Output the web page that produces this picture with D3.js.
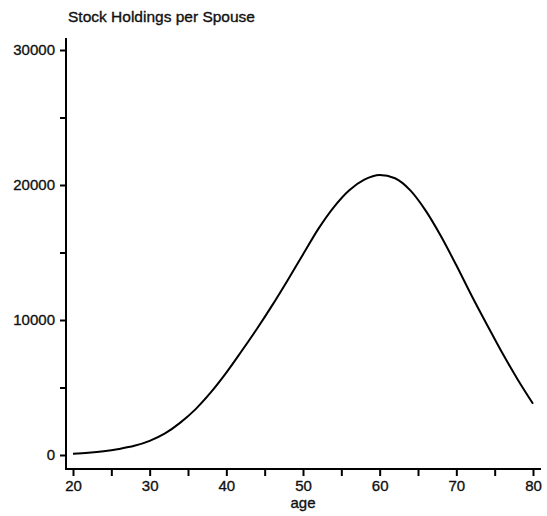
<!DOCTYPE html>
<html>
<head>
<meta charset="utf-8">
<script src="https://cdn.jsdelivr.net/npm/d3@7"></script>
<style>
  html, body { margin: 0; padding: 0; background: #fff; }
  svg text { font-family: "Liberation Sans", Arial, Helvetica, sans-serif; fill: #111; stroke: #111; stroke-width: 0.35px; }
</style>
</head>
<body>
<svg id="chart" width="547" height="516"></svg>
<script>
// Age profile of stock holdings per spouse
const ages = [20,22,24,26,28,30,32,34,36,38,40,42,44,46,48,50,52,54,56,58,60,62,64,66,68,70,72,74,76,78,80];
const holdings = [100,170,280,450,680,1050,1600,2400,3400,4650,6100,7700,9350,11100,12950,14850,16750,18350,19600,20400,20750,20500,19600,18100,16200,14050,11800,9650,7550,5600,3800];

const xTicks = [20,25,30,35,40,45,50,55,60,65,70,75,80];
const xLabels = [20,30,40,50,60,70,80];
const yTicks = [0,5000,10000,15000,20000,25000,30000];
const yLabels = [0,10000,20000,30000];

const title = "Stock Holdings per Spouse";
const xTitle = "age";

const svg = d3.select("#chart");
const x = d3.scaleLinear().domain([20, 80]).range([73, 533]);
const y = d3.scaleLinear().domain([0, 30000]).range([455, 50]);

const axisX = 66, axisY = 469;

// axis frame lines
svg.append("line")
  .attr("x1", axisX).attr("x2", axisX)
  .attr("y1", y(30000) - 12).attr("y2", axisY + 1)
  .attr("stroke", "#000").attr("stroke-width", 2);
svg.append("line")
  .attr("x1", axisX - 1).attr("x2", x(80) + 8)
  .attr("y1", axisY).attr("y2", axisY)
  .attr("stroke", "#000").attr("stroke-width", 2);

// y axis ticks
const yAxis = d3.axisLeft(y)
  .tickValues(yTicks)
  .tickSize(6)
  .tickPadding(5)
  .tickFormat(d => yLabels.includes(d) ? String(d) : "");
const gy = svg.append("g").attr("transform", `translate(${axisX},0)`).call(yAxis);
gy.select(".domain").remove();
gy.selectAll(".tick line").attr("stroke", "#000").attr("stroke-width", 2);
gy.selectAll(".tick text").attr("font-size", 15).attr("font-family", null).attr("fill", null);

// x axis ticks
const xAxis = d3.axisBottom(x)
  .tickValues(xTicks)
  .tickSize(7)
  .tickPadding(4)
  .tickFormat(d => xLabels.includes(d) ? String(d) : "");
const gx = svg.append("g").attr("transform", `translate(0,${axisY})`).call(xAxis);
gx.select(".domain").remove();
gx.selectAll(".tick line").attr("stroke", "#000").attr("stroke-width", 2);
gx.selectAll(".tick text").attr("font-size", 15).attr("font-family", null).attr("fill", null);

// titles
svg.append("text")
  .attr("x", 68).attr("y", 22)
  .attr("font-size", 15.5)
  .text(title);
svg.append("text")
  .attr("x", x(50)).attr("y", 508)
  .attr("text-anchor", "middle")
  .attr("font-size", 15)
  .text(xTitle);

// profile curve
const line = d3.line()
  .x((d, i) => x(ages[i]))
  .y(d => y(d))
  .curve(d3.curveMonotoneX);
svg.append("path")
  .datum(holdings)
  .attr("fill", "none")
  .attr("stroke", "#000")
  .attr("stroke-width", 2)
  .attr("d", line);
</script>
</body>
</html>
